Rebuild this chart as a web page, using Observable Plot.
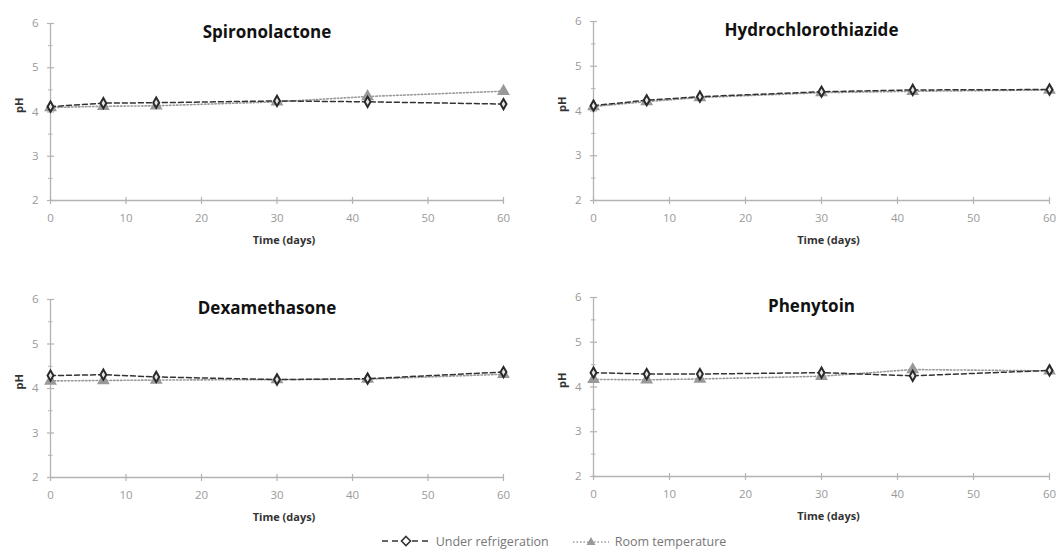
<!DOCTYPE html>
<html><head><meta charset="utf-8">
<script src="https://cdn.jsdelivr.net/npm/d3@7"></script>
<script src="https://cdn.jsdelivr.net/npm/@observablehq/plot@0.6"></script>
<style>
body{margin:0;background:#fff;}
#wrap{position:relative;width:1056px;height:551px;overflow:hidden;font-family:"Open Sans",sans-serif;}
.panel{position:absolute;overflow:hidden;}
#legend{position:absolute;left:0;top:532px;width:1056px;height:18px;display:flex;justify-content:center;align-items:center;font-size:12.5px;color:#777;padding-left:50px;box-sizing:border-box;}
#legend .item{display:flex;align-items:center;margin:0 8px;}
#legend svg{margin-right:4px;}
</style></head><body><div id="wrap"></div>
<script>
// ---- data ----
const days = [0, 7, 14, 30, 42, 60];
const drugs = ["Spironolactone", "Hydrochlorothiazide", "Dexamethasone", "Phenytoin"];
const conditions = ["Under refrigeration", "Room temperature"];
const spiroFridge = [4.12, 4.20, 4.21, 4.25, 4.23, 4.18];
const spiroRoom   = [4.10, 4.13, 4.14, 4.23, 4.35, 4.47];
const hctzFridge  = [4.12, 4.24, 4.32, 4.43, 4.47, 4.48];
const hctzRoom    = [4.10, 4.21, 4.30, 4.41, 4.44, 4.47];
const dexaFridge  = [4.29, 4.31, 4.26, 4.20, 4.22, 4.37];
const dexaRoom    = [4.17, 4.18, 4.19, 4.20, 4.21, 4.32];
const phenFridge  = [4.32, 4.29, 4.29, 4.32, 4.25, 4.37];
const phenRoom    = [4.17, 4.16, 4.18, 4.24, 4.39, 4.36];
const xTicks = [0, 10, 20, 30, 40, 50, 60];
const yTicks = [2, 3, 4, 5, 6];
const yMinor = [2.5, 3.5, 4.5, 5.5];

const series = [
  [spiroFridge, spiroRoom],
  [hctzFridge, hctzRoom],
  [dexaFridge, dexaRoom],
  [phenFridge, phenRoom]
];

// ---- layout ----
const layouts = [
  {left: 0,   top: 0,   width: 530, mL: 50, mR: 27, mT: 23, mB: 75},
  {left: 543, top: 0,   width: 513, mL: 50, mR: 7,  mT: 21, mB: 75},
  {left: 0,   top: 275, width: 530, mL: 50, mR: 27, mT: 24, mB: 73},
  {left: 543, top: 275, width: 513, mL: 50, mR: 7,  mT: 22, mB: 74}
];

const vTick = {draw(ctx){ctx.moveTo(0,-3.5);ctx.lineTo(0,3.5);}};
const hTick = {draw(ctx){ctx.moveTo(-3.5,0);ctx.lineTo(3.5,0);}};
const hMinor = {draw(ctx){ctx.moveTo(-2.5,0);ctx.lineTo(2,0);}};
const axisColor = "#b3b3b3";

const wrap = document.getElementById("wrap");

drugs.forEach((drug, k) => {
  const L = layouts[k];
  const rows = [];
  conditions.forEach((c, j) => days.forEach((d, i) => rows.push({drug, cond: c, day: d, ph: series[k][j][i]})));
  const fridge = rows.filter(r => r.cond === conditions[0]);
  const room = rows.filter(r => r.cond === conditions[1]);
  const chart = Plot.plot({
    width: L.width, height: 275,
    marginLeft: L.mL, marginRight: L.mR, marginTop: L.mT, marginBottom: L.mB,
    style: {fontFamily: "'Open Sans', sans-serif", overflow: "visible"},
    x: {domain: [0, 60]},
    y: {domain: [2, 6]},
    marks: [
      Plot.ruleY([2], {stroke: axisColor, strokeWidth: 1.3}),
      Plot.ruleX([0], {y1: 2, y2: 6, stroke: axisColor, strokeWidth: 1.3}),
      Plot.dot(xTicks, {x: d => d, frameAnchor: "bottom", symbol: vTick, stroke: axisColor, strokeWidth: 1.2}),
      Plot.dot(yTicks, {y: d => d, frameAnchor: "left", symbol: hTick, stroke: axisColor, strokeWidth: 1.2}),
      Plot.dot(yMinor, {y: d => d, frameAnchor: "left", symbol: hMinor, stroke: axisColor, strokeWidth: 1}),
      Plot.axisX(xTicks, {tickSize: 0, tickPadding: 13, label: null, fill: "#9a9a9a", fontSize: 11.5}),
      Plot.axisY(yTicks, {tickSize: 0, tickPadding: 12, label: null, fill: "#9a9a9a", fontSize: 11.5}),
      Plot.text(["Time (days)"], {frameAnchor: "bottom", lineAnchor: "middle", dx: 7, dy: 40, fontWeight: "bold", fontSize: 11, fill: "#333"}),
      Plot.text(["pH"], {frameAnchor: "left", rotate: -90, dx: -31, dy: 1, fontWeight: "bold", fontSize: 11, fill: "#333"}),
      Plot.text([drug], {frameAnchor: "top", lineAnchor: "middle", dx: -10, dy: 9, fontWeight: "bold", fontSize: 17, fill: "#111"}),
      Plot.line(room, {x: "day", y: "ph", stroke: "#9a9a9a", strokeWidth: 1.6, strokeDasharray: "1.5,2"}),
      Plot.dot(room, {x: "day", y: "ph", symbol: "triangle", r: 3.8, fill: "#999", stroke: "#999"}),
      Plot.line(fridge, {x: "day", y: "ph", stroke: "#333", strokeWidth: 1.5, strokeDasharray: "5,3"}),
      Plot.dot(fridge, {x: "day", y: "ph", symbol: "diamond", r: 3.1, fill: "#e6e6e6", stroke: "#2a2a2a", strokeWidth: 2})
    ]
  });
  const div = document.createElement("div");
  div.className = "panel";
  div.style.left = L.left + "px";
  div.style.top = L.top + "px";
  div.style.width = L.width + "px";
  div.style.height = "275px";
  div.appendChild(chart);
  wrap.appendChild(div);
});

// ---- legend ----
const legend = document.createElement("div");
legend.id = "legend";
legend.innerHTML = `
<div class="item"><svg width="52" height="12">
  <line x1="2" y1="6" x2="50" y2="6" stroke="#333" stroke-width="1.6" stroke-dasharray="6,4"/>
  <path d="M26,1.5L30.5,6L26,10.5L21.5,6Z" fill="#fff" stroke="#333" stroke-width="1.6"/>
</svg><span>${conditions[0]}</span></div>
<div class="item" style="margin-left:14px"><svg width="40" height="12">
  <line x1="2" y1="7" x2="38" y2="7" stroke="#999" stroke-width="1.6" stroke-dasharray="1.5,2"/>
  <path d="M20,2L24.5,10L15.5,10Z" fill="#999"/>
</svg><span>${conditions[1]}</span></div>`;
wrap.appendChild(legend);
</script>
</body></html>
